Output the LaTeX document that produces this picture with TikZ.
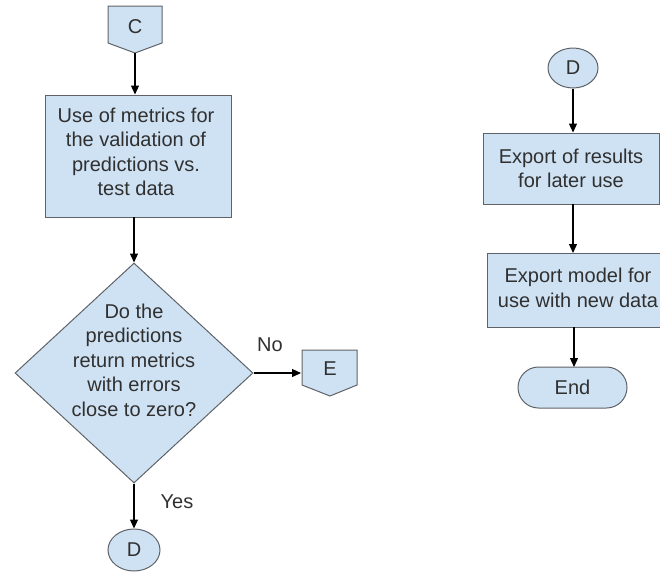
\documentclass[tikz,border=0pt]{standalone}
\usepackage{fontspec}
\setmainfont{Liberation Sans}
\usetikzlibrary{shapes.geometric,shapes.misc,arrows.meta}
\definecolor{boxfill}{HTML}{CFE2F3}
\definecolor{boxline}{HTML}{5F6368}
\definecolor{txt}{HTML}{303030}
\begin{document}
\begin{tikzpicture}[x=1pt,y=-1pt,
  font=\fontsize{20}{24.5}\selectfont,
  every node/.style={text=txt},
  shapebox/.style={draw=boxline,fill=boxfill,line width=1pt},
  procbox/.style={shapebox,rectangle,inner sep=0,align=center},
  decbox/.style={shapebox,diamond,inner sep=0},
  connbox/.style={shapebox,ellipse,inner sep=0},
  termbox/.style={shapebox,rounded rectangle,inner sep=0},
  label/.style={inner sep=0,align=center},
  flow/.style={draw=black,line width=1.2pt,-{Triangle[length=9pt,width=8pt]}}
]
\useasboundingbox (0,0) rectangle (660,571);

% off-page connector C
\filldraw[shapebox] (108,6) -- (162,6) -- (162,43) -- (135,53) -- (108,43) -- cycle;
\node[label] (C) at (135,27) {C};
\coordinate (Ctip) at (135,53);

% process box 1
\node[procbox,minimum width=186,minimum height=122] (metrics) at (138,156) {};
\node[label] (metricstext) at (136,152) {Use of metrics for\\the validation of\\predictions vs.\\test data};
\coordinate (mout) at (134,217);

% decision
\node[decbox,minimum width=238,minimum height=220] (dec) at (134,373) {};
\node[label] (dectext) at (134,360) {Do the\\predictions\\return metrics\\with errors\\close to zero?};

% off-page connector E
\filldraw[shapebox] (302,350) -- (357,350) -- (357,385) -- (330,396) -- (302,385) -- cycle;
\node[label] (E) at (330,369) {E};
\coordinate (Ein) at (301,373);

% connector D (bottom)
\node[connbox,minimum width=52,minimum height=42] (Dbot) at (134,550) {D};

% right column
\node[connbox,minimum width=50,minimum height=40] (Dtop) at (573,68) {D};
\node[procbox,minimum width=176,minimum height=71] (export1) at (571,168.5) {Export of results\\for later use};
\node[procbox,minimum width=182,minimum height=74] (export2) at (578,290) {};
\node[label] (export2text) at (578,288) {Export model for\\use with new data};
\node[termbox,minimum width=109,minimum height=41] (endnode) at (572.5,387.5) {End};
\coordinate (e1out) at (573,204);
\coordinate (e2in) at (573,253);
\coordinate (e2out) at (574,327);
\coordinate (endin) at (574,367);

% connectors
\draw[flow] (Ctip) -- (Ctip |- metrics.north);
\draw[flow] (mout) -- (dec.north);
\draw[flow] (dec.east) -- (Ein);
\draw[flow] (dec.south) -- (Dbot.north);
\draw[flow] (Dtop.south) -- (Dtop.south |- export1.north);
\draw[flow] (e1out) -- (e2in);
\draw[flow] (e2out) -- (endin);

% labels
\node[label] (no) at (270,345) {No};
\node[label] (yes) at (177,502) {Yes};
\end{tikzpicture}
\end{document}
